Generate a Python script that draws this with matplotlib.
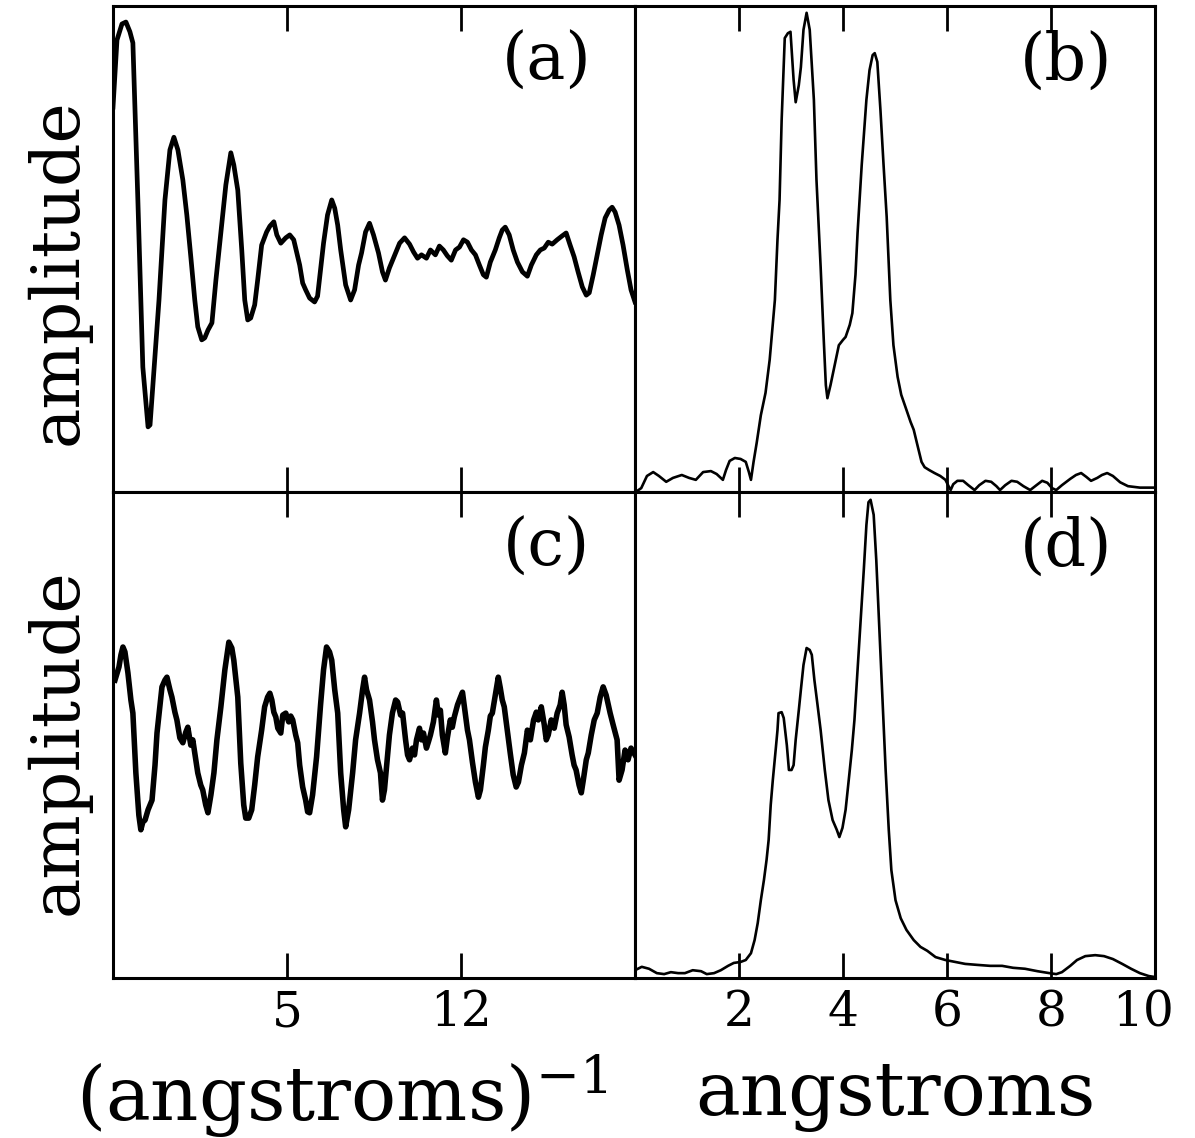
import matplotlib
matplotlib.use("Agg")
import matplotlib.pyplot as plt
from matplotlib.transforms import ScaledTranslation

# ------------------------------------------------------------
# data (arbitrary amplitude, 0-100 per panel)
# ------------------------------------------------------------
k_a = [-2.00, -1.84, -1.64, -1.48, -1.32, -1.20, -1.00, -0.80, -0.59, -0.51,
       -0.39, -0.15, 0.09, 0.29, 0.45, 0.61, 0.81, 0.97, 1.13, 1.29,
       1.41, 1.57, 1.69, 1.82, 1.98, 2.14, 2.34, 2.54, 2.74, 2.86,
       3.02, 3.18, 3.30, 3.42, 3.54, 3.70, 3.82, 3.98, 4.18, 4.31,
       4.47, 4.59, 4.75, 4.95, 5.11, 5.27, 5.51, 5.63, 5.75, 5.91,
       6.11, 6.23, 6.35, 6.47, 6.63, 6.80, 6.92, 7.04, 7.16, 7.36,
       7.56, 7.72, 7.88, 8.00, 8.16, 8.32, 8.48, 8.68, 8.84, 8.96,
       9.12, 9.37, 9.53, 9.73, 9.93, 10.09, 10.25, 10.41, 10.61, 10.77,
       10.97, 11.13, 11.29, 11.45, 11.61, 11.78, 11.94, 12.10, 12.26, 12.42,
       12.58, 12.74, 12.90, 13.02, 13.18, 13.38, 13.54, 13.66, 13.78, 13.94,
       14.10, 14.27, 14.47, 14.67, 14.83, 15.03, 15.19, 15.35, 15.51, 15.67,
       15.87, 16.07, 16.23, 16.39, 16.55, 16.71, 16.88, 17.04, 17.16, 17.32,
       17.48, 17.64, 17.80, 17.96, 18.08, 18.20, 18.36, 18.52, 18.69, 18.84,
       19.00]
amp_a = [79.2, 93.0, 96.3, 96.7, 94.7, 92.4, 60.1, 25.7, 13.4, 13.8,
         22.4, 39.5, 60.1, 70.4, 73.0, 70.4, 64.2, 57.0, 48.4, 39.5,
         34.0, 31.3, 31.7, 33.3, 34.8, 43.6, 53.3, 63.2, 69.8, 67.3,
         62.1, 49.8, 39.5, 35.4, 35.8, 38.5, 43.6, 50.8, 53.5, 54.7,
         55.6, 52.9, 51.2, 52.3, 52.9, 51.9, 46.7, 43.0, 41.6, 39.9,
         39.1, 40.3, 45.7, 51.2, 57.0, 60.1, 58.4, 54.9, 49.8, 42.6,
         39.5, 41.6, 46.7, 49.2, 53.5, 55.3, 52.9, 49.2, 45.3, 43.6,
         46.1, 49.2, 51.2, 52.3, 51.0, 49.4, 48.1, 48.8, 48.1, 49.8,
         48.8, 50.6, 49.8, 48.6, 47.7, 49.8, 50.4, 51.9, 51.4, 49.8,
         48.8, 46.7, 44.7, 44.2, 47.3, 49.8, 52.3, 53.9, 54.5, 52.9,
         49.8, 47.3, 45.3, 44.4, 46.7, 48.8, 49.8, 50.2, 51.4, 51.0,
         51.9, 52.7, 53.3, 50.8, 48.4, 45.3, 42.2, 40.5, 41.0, 44.7,
         48.8, 52.9, 56.4, 58.0, 58.6, 57.6, 54.9, 50.8, 45.7, 41.6,
         39.1]

r_b = [0.04, 0.12, 0.23, 0.35, 0.46, 0.60, 0.73, 0.90, 1.04, 1.17,
       1.31, 1.46, 1.57, 1.69, 1.75, 1.82, 1.92, 2.03, 2.13, 2.19,
       2.23, 2.28, 2.34, 2.42, 2.51, 2.59, 2.69, 2.74, 2.78, 2.82,
       2.88, 2.94, 2.99, 3.05, 3.09, 3.15, 3.19, 3.24, 3.30, 3.36,
       3.44, 3.49, 3.57, 3.63, 3.67, 3.70, 3.76, 3.84, 3.92, 4.00,
       4.05, 4.13, 4.18, 4.24, 4.28, 4.36, 4.45, 4.51, 4.57, 4.61,
       4.66, 4.72, 4.78, 4.84, 4.91, 4.97, 5.05, 5.12, 5.22, 5.30,
       5.36, 5.43, 5.51, 5.57, 5.66, 5.76, 5.87, 5.97, 6.03, 6.07,
       6.12, 6.20, 6.31, 6.41, 6.53, 6.62, 6.74, 6.85, 6.95, 7.02,
       7.12, 7.24, 7.35, 7.47, 7.60, 7.72, 7.83, 7.93, 8.02, 8.10,
       8.21, 8.37, 8.48, 8.58, 8.68, 8.77, 8.89, 8.98, 9.08, 9.19,
       9.33, 9.48, 9.71, 9.90, 10.0]
amp_b = [0.2, 0.8, 3.3, 4.1, 3.3, 2.1, 2.9, 3.5, 2.9, 2.5,
         4.1, 4.3, 3.7, 2.5, 4.5, 6.4, 7.0, 6.8, 6.2, 4.1,
         2.5, 6.2, 10.1, 15.8, 20.4, 27.2, 39.5, 51.9, 60.1, 76.5,
         93.4, 94.4, 94.7, 84.8, 80.2, 83.7, 87.4, 95.1, 98.6, 95.1,
         80.7, 64.2, 46.3, 31.3, 22.0, 19.3, 22.0, 26.1, 30.2, 31.3,
         31.9, 34.4, 36.8, 44.7, 53.3, 67.3, 80.7, 86.8, 89.9, 90.3,
         88.5, 78.6, 67.3, 56.6, 39.5, 30.2, 23.7, 20.0, 16.9, 14.4,
         12.8, 9.7, 6.2, 5.1, 4.5, 3.9, 3.3, 2.5, 1.2, 0.4,
         1.6, 2.3, 2.3, 1.4, 0.4, 1.4, 2.3, 2.1, 1.2, 0.4,
         1.4, 2.3, 2.1, 1.2, 0.4, 1.4, 2.3, 1.9, 0.8, 0.4,
         1.4, 2.7, 3.5, 3.9, 3.1, 2.3, 2.9, 3.5, 3.9, 3.3,
         2.0, 1.2, 0.9, 0.9, 0.9]

k_c = [-1.92, -1.76, -1.68, -1.60, -1.52, -1.40, -1.28, -1.20, -1.08, -0.96,
       -0.88, -0.80, -0.71, -0.59, -0.43, -0.31, -0.23, -0.11, -0.03, 0.09,
       0.17, 0.29, 0.37, 0.49, 0.57, 0.69, 0.81, 0.93, 1.01, 1.13,
       1.21, 1.33, 1.41, 1.53, 1.61, 1.73, 1.82, 1.94, 2.06, 2.18,
       2.34, 2.50, 2.66, 2.78, 2.86, 3.02, 3.14, 3.26, 3.34, 3.46,
       3.58, 3.70, 3.82, 3.98, 4.10, 4.22, 4.31, 4.39, 4.47, 4.55,
       4.63, 4.75, 4.83, 4.95, 5.07, 5.15, 5.23, 5.35, 5.43, 5.51,
       5.63, 5.75, 5.83, 5.91, 6.03, 6.19, 6.35, 6.47, 6.59, 6.71,
       6.80, 6.92, 7.04, 7.16, 7.28, 7.36, 7.48, 7.64, 7.76, 7.92,
       8.04, 8.12, 8.20, 8.32, 8.44, 8.52, 8.64, 8.76, 8.84, 8.92,
       9.04, 9.12, 9.24, 9.37, 9.45, 9.57, 9.65, 9.77, 9.85, 9.93,
       10.05, 10.13, 10.21, 10.33, 10.41, 10.49, 10.61, 10.69, 10.77, 10.89,
       11.01, 11.09, 11.17, 11.25, 11.37, 11.45, 11.57, 11.65, 11.73, 11.86,
       11.98, 12.06, 12.18, 12.26, 12.34, 12.46, 12.58, 12.70, 12.78, 12.90,
       12.98, 13.10, 13.18, 13.26, 13.38, 13.50, 13.58, 13.66, 13.74, 13.86,
       13.98, 14.10, 14.22, 14.31, 14.43, 14.55, 14.67, 14.79, 14.92, 15.03,
       15.11, 15.23, 15.35, 15.43, 15.51, 15.63, 15.75, 15.87, 15.99, 16.07,
       16.15, 16.23, 16.35, 16.47, 16.55, 16.63, 16.75, 16.84, 16.92, 17.04,
       17.12, 17.24, 17.36, 17.48, 17.60, 17.72, 17.84, 18.00, 18.12, 18.28,
       18.36, 18.48, 18.60, 18.72, 18.84, 19.00]
amp_c = [61.3, 64.0, 66.5, 68.1, 67.1, 62.8, 57.2, 54.5, 42.2, 33.5,
         30.5, 32.1, 32.5, 34.6, 36.6, 43.8, 50.4, 56.2, 59.9, 61.3,
         61.9, 59.3, 57.8, 54.7, 53.1, 49.4, 48.4, 50.6, 51.6, 47.9,
         49.0, 44.9, 42.2, 39.7, 38.7, 35.6, 34.0, 37.7, 42.2, 49.0,
         55.8, 63.4, 69.1, 67.9, 65.4, 57.8, 44.2, 35.6, 32.9, 32.9,
         34.6, 39.7, 45.5, 51.0, 55.8, 57.8, 58.6, 57.2, 54.7, 53.7,
         51.4, 50.4, 54.1, 54.5, 52.7, 53.9, 53.1, 50.0, 48.4, 43.8,
         39.3, 36.6, 34.2, 34.0, 37.7, 45.5, 56.2, 63.4, 68.1, 67.1,
         65.4, 59.3, 54.5, 42.2, 34.6, 31.1, 34.6, 42.2, 49.0, 54.5,
         59.3, 61.9, 59.3, 57.2, 52.7, 49.0, 44.9, 42.2, 36.6, 38.7,
         45.5, 50.0, 54.5, 57.2, 56.8, 54.1, 54.5, 49.0, 45.9, 44.9,
         47.3, 45.9, 49.0, 51.4, 49.0, 50.4, 47.3, 48.6, 50.0, 52.7,
         57.2, 54.1, 55.1, 50.0, 46.3, 49.4, 53.1, 51.6, 53.7, 56.2,
         57.8, 58.8, 54.1, 51.0, 49.0, 44.4, 40.3, 37.2, 38.7, 43.8,
         47.5, 51.0, 53.9, 54.5, 58.2, 61.9, 59.7, 57.2, 55.8, 51.0,
         46.3, 41.8, 39.3, 40.3, 43.8, 46.3, 51.0, 49.0, 53.1, 54.7,
         53.1, 55.8, 52.1, 49.0, 50.0, 53.1, 51.4, 54.5, 56.2, 58.8,
         56.2, 52.1, 49.6, 45.9, 43.8, 42.8, 39.7, 38.1, 40.7, 44.9,
         46.3, 50.0, 53.1, 54.5, 57.8, 59.9, 58.2, 54.5, 52.1, 49.0,
         40.7, 42.8, 46.9, 44.9, 47.3, 45.9]

r_d = [0.00, 0.13, 0.27, 0.42, 0.56, 0.69, 0.83, 0.96, 1.11, 1.27,
       1.38, 1.52, 1.65, 1.79, 1.90, 2.03, 2.13, 2.23, 2.30, 2.36,
       2.42, 2.48, 2.53, 2.57, 2.61, 2.65, 2.71, 2.74, 2.76, 2.82,
       2.86, 2.92, 2.96, 3.01, 3.05, 3.09, 3.15, 3.19, 3.24, 3.30,
       3.36, 3.40, 3.45, 3.51, 3.57, 3.65, 3.72, 3.80, 3.88, 3.93,
       3.99, 4.05, 4.11, 4.17, 4.22, 4.28, 4.34, 4.40, 4.45, 4.49,
       4.53, 4.59, 4.64, 4.70, 4.76, 4.82, 4.88, 4.93, 5.01, 5.11,
       5.22, 5.36, 5.49, 5.62, 5.78, 5.97, 6.16, 6.35, 6.58, 6.83,
       7.06, 7.27, 7.50, 7.74, 7.97, 8.10, 8.21, 8.37, 8.50, 8.66,
       8.85, 9.02, 9.19, 9.37, 9.54, 9.71, 9.88, 10.0]
amp_d = [1.6, 2.3, 1.9, 1.0, 0.8, 1.2, 1.0, 1.0, 1.6, 1.4,
         0.8, 1.0, 1.6, 2.5, 3.1, 3.3, 3.7, 5.1, 7.8, 11.3,
         16.0, 20.2, 24.3, 28.4, 35.6, 40.7, 47.5, 51.0, 54.5, 54.7,
         53.5, 47.9, 42.8, 42.8, 43.8, 49.0, 55.1, 59.3, 64.4, 67.9,
         67.5, 66.5, 61.3, 56.2, 51.0, 42.8, 36.6, 32.5, 30.5, 29.0,
         30.9, 34.6, 40.7, 46.9, 53.1, 63.4, 73.7, 84.0, 93.2, 97.9,
         98.4, 95.3, 86.0, 71.6, 57.2, 42.8, 30.5, 22.2, 16.0, 12.3,
         9.9, 7.8, 6.4, 5.6, 4.3, 3.7, 3.3, 2.9, 2.7, 2.5,
         2.5, 2.1, 1.9, 1.4, 1.0, 0.8, 1.2, 2.5, 3.7, 4.5,
         4.7, 4.5, 3.9, 2.9, 1.9, 1.0, 0.4, 0.2]

left_ticks = [5, 12]
right_ticks = [2, 4, 6, 8, 10]
panel_tags = ["(a)", "(b)", "(c)", "(d)"]
y_label = "amplitude"
left_xlabel = r"(angstroms)$^{-1}$"
right_xlabel = "angstroms"

plt.rcParams["font.family"] = ["DejaVu Serif"]
plt.rcParams["mathtext.fontset"] = "dejavuserif"

fig = plt.figure(figsize=(11.95, 11.38), dpi=100)

W, H = 1195.0, 1138.0
x0, xm, x1 = 113 / W, 635 / W, 1155 / W
y_top, y_mid, y_bot = 1 - 6 / H, 1 - 492 / H, 1 - 978 / H

ax_a = fig.add_axes([x0, y_mid, xm - x0, y_top - y_mid])
ax_b = fig.add_axes([xm, y_mid, x1 - xm, y_top - y_mid])
ax_c = fig.add_axes([x0, y_bot, xm - x0, y_mid - y_bot])
ax_d = fig.add_axes([xm, y_bot, x1 - xm, y_mid - y_bot])

ax_a.plot(k_a, amp_a, color="black", lw=3.4, solid_joinstyle="round")
ax_c.plot(k_c, amp_c, color="black", lw=4.0, solid_joinstyle="round")
ax_b.plot(r_b, amp_b, color="black", lw=1.9, solid_joinstyle="round")
ax_d.plot(r_d, amp_d, color="black", lw=1.9, solid_joinstyle="round")

for ax in (ax_a, ax_c):
    ax.set_xlim(-2, 19)
    ax.set_xticks(left_ticks)
for ax in (ax_b, ax_d):
    ax.set_xlim(0, 10)
    ax.set_xticks(right_ticks)

for ax, tag in zip((ax_a, ax_b, ax_c, ax_d), panel_tags):
    ax.set_ylim(0, 100)
    ax.set_yticks([])
    for sp in ax.spines.values():
        sp.set_linewidth(2.2)
    ax.tick_params(axis="x", direction="in", top=True, bottom=True,
                   length=18, width=2.0, pad=8, labelsize=35)
    ax.text(0.83, 0.885, tag, transform=ax.transAxes, fontsize=47,
            ha="center", va="center")

for ax in (ax_a, ax_b):
    ax.tick_params(axis="x", labelbottom=False)

# the "10" sits a little inside the right edge
last = ax_d.get_xticklabels()[-1]
last.set_transform(last.get_transform() + ScaledTranslation(-12 / 100, 0, fig.dpi_scale_trans))

fig.text(58 / W, 1 - 272 / H, y_label, rotation=90, fontsize=49,
         ha="center", va="center")
fig.text(58 / W, 1 - 742 / H, y_label, rotation=90, fontsize=49,
         ha="center", va="center")
fig.text(342 / W, 1 - 1096 / H, left_xlabel, fontsize=54,
         ha="center", va="center")
fig.text(895 / W, 1 - 1096 / H, right_xlabel, fontsize=54,
         ha="center", va="center")

fig.savefig("out.png", dpi=100, facecolor="white")
